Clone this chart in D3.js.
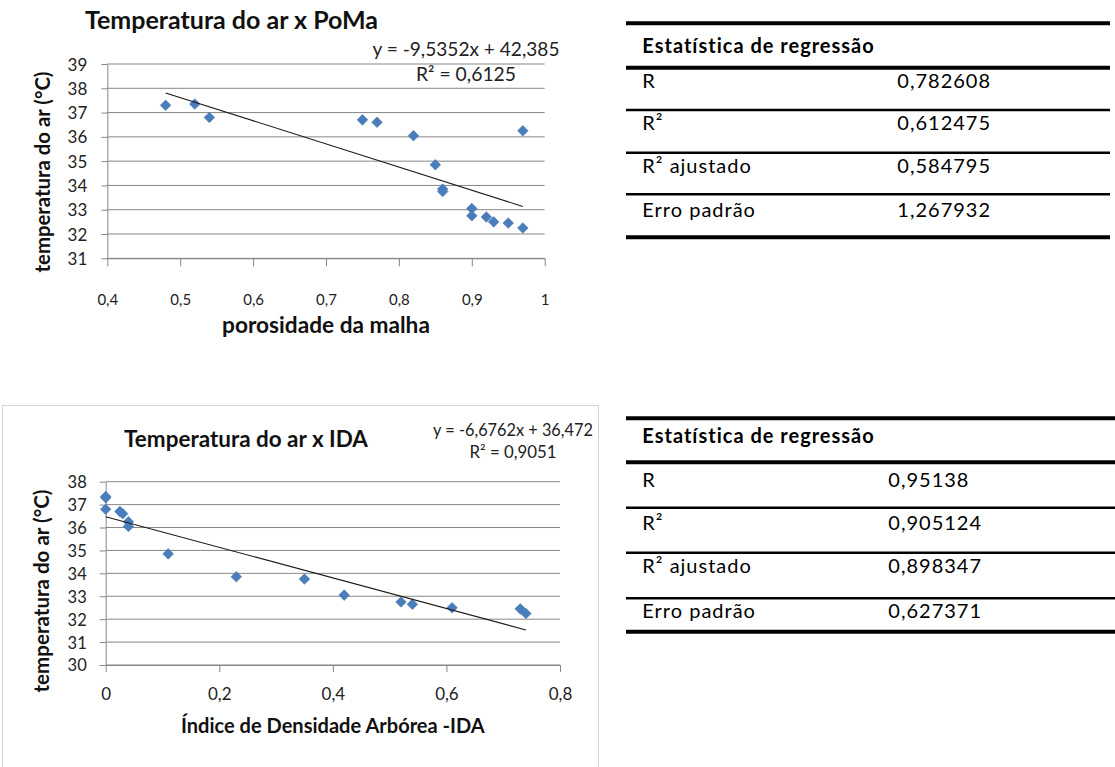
<!DOCTYPE html>
<html>
<head>
<meta charset="utf-8">
<script src="https://cdn.jsdelivr.net/npm/d3@7"></script>
<style>
  html, body { margin: 0; padding: 0; background: #fff; }
  svg { display: block; }
</style>
</head>
<body>
<svg id="fig" width="1115" height="767"></svg>
<script>
// ---- data ----
// air temperature (°C) at each site
const tempPoma = [37.3, 37.35, 36.8, 36.7, 36.6, 36.05, 34.85, 33.85, 33.75, 33.05, 32.75, 32.7, 32.5, 32.45, 32.25, 36.25];
// mesh porosity (PoMa) at each site
const porosity = [0.48, 0.52, 0.54, 0.75, 0.77, 0.82, 0.85, 0.86, 0.86, 0.90, 0.90, 0.92, 0.93, 0.95, 0.97, 0.97];

const tempIda = [37.35, 37.3, 36.8, 36.7, 36.6, 36.25, 36.05, 34.85, 33.85, 33.75, 33.05, 32.75, 32.65, 32.5, 32.45, 32.25];
// tree density index (IDA) at each site
const ida = [0.0, 0.0, 0.0, 0.025, 0.03, 0.04, 0.04, 0.11, 0.23, 0.35, 0.42, 0.52, 0.54, 0.61, 0.73, 0.74];

// linear trend lines: [slope, intercept, R²]
const trendPoma = [-9.5352, 42.385, 0.6125];
const trendIda = [-6.6762, 36.472, 0.9051];

// axis ticks
const yTicksPoma = [31, 32, 33, 34, 35, 36, 37, 38, 39];
const xTicksPoma = [0.4, 0.5, 0.6, 0.7, 0.8, 0.9, 1.0];
const yTicksIda = [30, 31, 32, 33, 34, 35, 36, 37, 38];
const xTicksIda = [0, 0.2, 0.4, 0.6, 0.8];

// regression statistics tables
const statLabels = ["R", "R²", "R² ajustado", "Erro padrão"];
const statsPoma = [0.782608, 0.612475, 0.584795, 1.267932];
const statsIda = [0.95138, 0.905124, 0.898347, 0.627371];

// ---- helpers ----
const svg = d3.select("#fig");
const FONT = "Lato, 'Open Sans', sans-serif";
const GRID = "#878787";
const MARK = "#4a7ebb";
const comma = v => String(v).replace(".", ",");

function fit(sel, width) {
  const len = sel.node().getComputedTextLength();
  const fs = parseFloat(sel.attr("font-size"));
  sel.attr("font-size", fs * width / len);
  return sel;
}

function scatter(cfg) {
  const g = svg.append("g");
  const x = d3.scaleLinear().domain(cfg.xDomain).range(cfg.xRange);
  const y = d3.scaleLinear().domain(cfg.yDomain).range(cfg.yRange);

  // horizontal gridlines
  g.append("g").selectAll("line").data(cfg.yTicks).join("line")
    .attr("x1", x.range()[0]).attr("x2", x.range()[1])
    .attr("y1", d => y(d)).attr("y2", d => y(d))
    .attr("stroke", GRID).attr("stroke-width", 1);

  // value axis
  const ya = g.append("g").attr("transform", `translate(${x.range()[0]},0)`)
    .call(d3.axisLeft(y).tickValues(cfg.yTicks).tickFormat(d3.format("d"))
      .tickSizeInner(6).tickSizeOuter(0).tickPadding(cfg.yPad));
  ya.select(".domain").attr("stroke", GRID);
  ya.selectAll(".tick line").attr("stroke", GRID);
  ya.selectAll("text").attr("font-family", FONT).attr("font-size", cfg.yFont)
    .attr("fill", "#222").attr("dy", "0.36em");

  // category axis
  const xa = g.append("g").attr("transform", `translate(0,${y.range()[0]})`)
    .call(d3.axisBottom(x).tickValues(cfg.xTicks).tickFormat(comma)
      .tickSizeInner(cfg.xTickLen).tickSizeOuter(0));
  xa.select(".domain").attr("stroke", GRID);
  xa.selectAll(".tick line").attr("stroke", GRID);
  xa.selectAll("text").attr("font-family", FONT).attr("font-size", cfg.xFont)
    .attr("fill", "#222").attr("dy", null).attr("y", cfg.xLabelBase - y.range()[0]);

  // points
  g.append("g").selectAll("path").data(cfg.xs).join("path")
    .attr("d", d3.symbol(d3.symbolSquare, 56))
    .attr("transform", (d, i) => `translate(${x(d)},${y(cfg.ys[i])}) rotate(45)`)
    .attr("fill", MARK).attr("stroke", "#4577b3").attr("stroke-width", 0.6);

  // trend line from the fitted equation
  const [m, b, r2] = cfg.trend;
  const x0 = d3.min(cfg.xs), x1 = d3.max(cfg.xs);
  g.append("line")
    .attr("x1", x(x0)).attr("y1", y(m * x0 + b))
    .attr("x2", x(x1)).attr("y2", y(m * x1 + b))
    .attr("stroke", "#1a1a1a").attr("stroke-width", 1.1);

  // equation label
  const eq1 = g.append("text").text(`y = ${comma(m)}x + ${comma(b)}`)
    .attr("x", cfg.eqX).attr("y", cfg.eqY1).attr("text-anchor", "middle")
    .attr("font-family", FONT).attr("font-size", 18).attr("fill", "#222");
  fit(eq1, cfg.eqW1);
  const eq2 = g.append("text").text(`R² = ${comma(r2)}`)
    .attr("x", cfg.eqX).attr("y", cfg.eqY2).attr("text-anchor", "middle")
    .attr("font-family", FONT).attr("font-size", 18).attr("fill", "#222");
  fit(eq2, cfg.eqW2);

  // title
  const t = g.append("text").text(cfg.title)
    .attr("x", cfg.titleX).attr("y", cfg.titleY).attr("text-anchor", "middle")
    .attr("font-family", FONT).attr("font-weight", 700).attr("font-size", 20).attr("fill", "#111");
  fit(t, cfg.titleW);

  // axis titles
  const xt = g.append("text").text(cfg.xTitle)
    .attr("x", (x.range()[0] + x.range()[1]) / 2).attr("y", cfg.xTitleY)
    .attr("text-anchor", "middle")
    .attr("font-family", FONT).attr("font-weight", 700).attr("font-size", 20).attr("fill", "#111");
  fit(xt, cfg.xTitleW);
  const yt = g.append("text").text("temperatura do ar (°C)")
    .attr("transform", `translate(${cfg.yTitleX},${cfg.yTitleY}) rotate(-90)`)
    .attr("text-anchor", "middle")
    .attr("font-family", FONT).attr("font-weight", 700).attr("font-size", 20).attr("fill", "#111");
  fit(yt, cfg.yTitleW);
}

// bottom chart frame
svg.append("rect").attr("x", 2.5).attr("y", 405.5).attr("width", 596).attr("height", 420)
  .attr("fill", "none").attr("stroke", "#d4d4d4").attr("stroke-width", 1);

scatter({
  xs: porosity, ys: tempPoma, trend: trendPoma,
  xDomain: [0.4, 1], xRange: [107.3, 544.7],
  yDomain: [31, 39], yRange: [258.3, 64],
  yTicks: yTicksPoma, xTicks: xTicksPoma,
  yFont: 17, yPad: 14, xFont: 15, xTickLen: 8, xLabelBase: 305,
  eqX: 466, eqY1: 56, eqY2: 80.5, eqW1: 187, eqW2: 100,
  title: "Temperatura do ar x PoMa", titleX: 231.5, titleY: 29.3, titleW: 293,
  xTitle: "porosidade da malha", xTitleY: 333, xTitleW: 208,
  yTitleX: 50, yTitleY: 172, yTitleW: 201
});

scatter({
  xs: ida, ys: tempIda, trend: trendIda,
  xDomain: [0, 0.8], xRange: [105.7, 560],
  yDomain: [30, 38], yRange: [665, 481.7],
  yTicks: yTicksIda, xTicks: xTicksIda,
  yFont: 16.5, yPad: 13, xFont: 17, xTickLen: 7, xLabelBase: 700,
  eqX: 513, eqY1: 436, eqY2: 458, eqW1: 160, eqW2: 87,
  title: "Temperatura do ar x IDA", titleX: 246, titleY: 447, titleW: 244,
  xTitle: "Índice de Densidade Arbórea -IDA", xTitleY: 732.7, xTitleW: 304,
  yTitleX: 49, yTitleY: 591, yTitleW: 203
});

// regression statistics tables
function statTable(values, lay) {
  const g = svg.append("g");
  lay.rules.forEach(([yy, w]) => {
    g.append("line").attr("x1", lay.x0).attr("x2", lay.x1)
      .attr("y1", yy).attr("y2", yy).attr("stroke", "#000").attr("stroke-width", w);
  });
  g.append("text").text("Estatística de regressão")
    .attr("x", 642.3).attr("y", lay.headY)
    .attr("font-family", FONT).attr("font-weight", 700).attr("font-size", 20)
    .attr("letter-spacing", 1).attr("fill", "#000");
  statLabels.forEach((lab, i) => {
    g.append("text").text(lab).attr("x", 642.3).attr("y", lay.rowY[i])
      .attr("font-family", FONT).attr("font-size", 20).attr("letter-spacing", 1).attr("fill", "#000");
    g.append("text").text(comma(values[i])).attr("x", lay.valX).attr("y", lay.rowY[i])
      .attr("font-family", FONT).attr("font-size", 20).attr("letter-spacing", 1).attr("fill", "#000");
  });
}

statTable(statsPoma, {
  x0: 626, x1: 1110, valX: 897.3, headY: 53.3,
  rowY: [88.3, 130, 173.3, 216.7],
  rules: [[23.3, 4], [67.7, 4], [110, 2.5], [152.7, 2.5], [194.3, 2.5], [237.3, 4]]
});

statTable(statsIda, {
  x0: 626, x1: 1115, valX: 888.3, headY: 443.3,
  rowY: [486.7, 530, 573.3, 618.3],
  rules: [[418.3, 4], [462.3, 4], [507.7, 2.5], [552.7, 2.5], [598.3, 2.5], [631.7, 4]]
});
</script>
</body>
</html>
